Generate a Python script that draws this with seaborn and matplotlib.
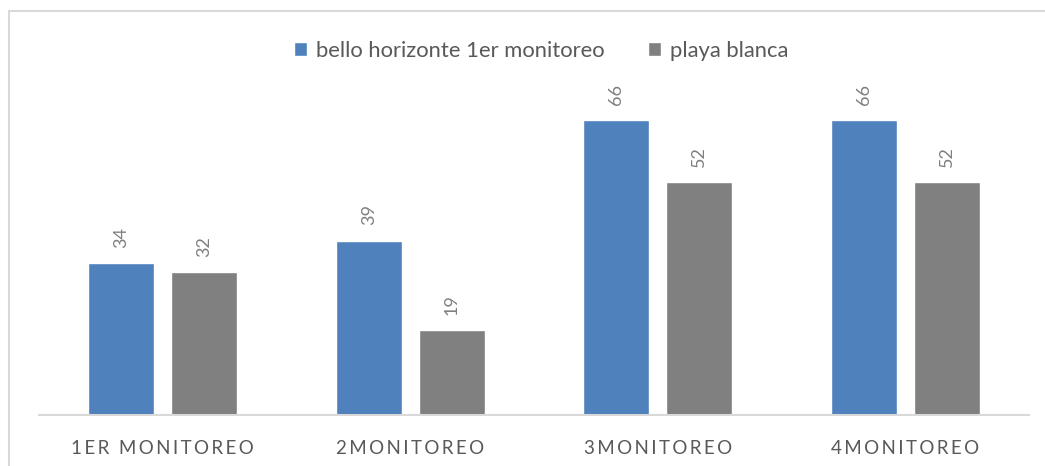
import matplotlib
matplotlib.use("Agg")
import matplotlib.pyplot as plt
import seaborn as sns
import pandas as pd
from matplotlib.patches import Rectangle

categories = ["1ER MONITOREO", "2MONITOREO", "3MONITOREO", "4MONITOREO"]
series_names = ["bello horizonte 1er monitoreo", "playa blanca"]
bello = [34, 39, 66, 66]
playa = [32, 19, 52, 52]

df = pd.DataFrame({
    "cat": categories * 2,
    "serie": [series_names[0]] * 4 + [series_names[1]] * 4,
    "val": bello + playa,
})

sns.set_theme(style="white")
plt.rcParams["font.family"] = ["Lato", "DejaVu Sans"]

W, H = 1045, 466
fig = plt.figure(figsize=(W / 100, H / 100), dpi=100)
ax = fig.add_axes([39 / W, (H - 415) / H, (1029 - 39) / W, (415 - 102) / H])

palette = {series_names[0]: "#4F81BD", series_names[1]: "#808080"}
sns.barplot(data=df, x="cat", y="val", hue="serie", palette=palette,
            width=0.67, gap=0.2, ax=ax, saturation=1, legend=True)

ax.set_ylim(0, 70)
ax.set_xlim(-0.5, 3.5)
ax.set_xlabel("")
ax.set_ylabel("")
ax.set_yticks([])
for s in ["top", "right", "left"]:
    ax.spines[s].set_visible(False)
ax.spines["bottom"].set_color("#D9D9D9")
ax.spines["bottom"].set_linewidth(1.5)

def spaced(t):
    return "\u2009".join(list(t)).replace("\u2009 \u2009", "  ")

ax.set_xticks(range(len(categories)))
ax.set_xticklabels([spaced(c) for c in categories], fontsize=13.5, color="#595959")
ax.tick_params(axis="x", length=0, pad=18)

for cont in ax.containers:
    ax.bar_label(cont, labels=[f"{v:g}" for v in cont.datavalues], rotation=90,
                 padding=11, fontsize=13, color="#7F7F7F")

h, l = ax.get_legend_handles_labels()
ax.legend_.remove()
fig.legend(h, l, loc="center", bbox_to_anchor=(541 / W, 1 - 51 / H), ncol=2,
           frameon=False, fontsize=15.8, labelcolor="#595959",
           handlelength=0.6, handleheight=0.6, handletextpad=0.4, columnspacing=2.0)

fig.patches.append(Rectangle((9 / W, -0.1), 1.2, (H - 11) / H + 0.1,
                             transform=fig.transFigure, fill=False,
                             edgecolor="#D9D9D9", linewidth=1.5))

fig.savefig("out.png", dpi=100, facecolor="white")
